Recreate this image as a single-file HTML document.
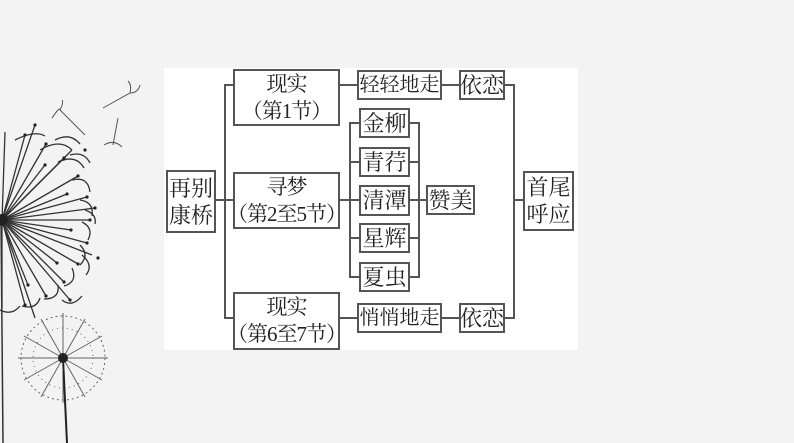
<!DOCTYPE html>
<html><head><meta charset="utf-8"><style>
html,body{margin:0;padding:0;}
body{width:794px;height:443px;background:#f3f3f3;position:relative;overflow:hidden;font-family:"Liberation Serif","Noto Serif CJK SC","Noto Sans CJK SC",serif;}
.panel{position:absolute;left:164px;top:68px;width:414px;height:282px;background:#fff;}
.b{position:absolute;border:2px solid #555;box-sizing:border-box;background:#fff;display:flex;align-items:center;justify-content:center;text-align:center;font-size:22px;line-height:27px;color:#222;white-space:nowrap;}
.s{font-size:21px;letter-spacing:-1px;}
.w{font-size:20px;}
.h{position:absolute;height:2px;background:#555;}
.v{position:absolute;width:2px;background:#555;}
svg{position:absolute;left:0;top:0;}
</style></head><body>
<svg width="794" height="443">
<g stroke="#333" stroke-width="1.3" fill="none">
<line x1="2" y1="220" x2="25" y2="135"/><line x1="2" y1="220" x2="46" y2="144"/><line x1="2" y1="220" x2="64" y2="158"/><line x1="2" y1="220" x2="78" y2="176"/><line x1="2" y1="220" x2="87" y2="197"/><line x1="2" y1="220" x2="90" y2="220"/><line x1="2" y1="220" x2="87" y2="243"/><line x1="2" y1="220" x2="78" y2="264"/><line x1="2" y1="220" x2="64" y2="282"/><line x1="2" y1="220" x2="46" y2="296"/><line x1="2" y1="220" x2="25" y2="305"/><line x1="2" y1="220" x2="5" y2="132"/><line x1="2" y1="220" x2="2" y2="308"/><line x1="2" y1="220" x2="45" y2="165"/><line x1="2" y1="220" x2="67" y2="194"/><line x1="2" y1="220" x2="71" y2="230"/><line x1="2" y1="220" x2="57" y2="263"/><line x1="2" y1="220" x2="28" y2="285"/>
<line x1="2" y1="220" x2="35" y2="125"/><line x1="2" y1="220" x2="72" y2="150"/><line x1="2" y1="220" x2="95" y2="208"/><line x1="2" y1="220" x2="92" y2="255"/><line x1="2" y1="220" x2="70" y2="300"/><line x1="2" y1="220" x2="35" y2="318"/>
<path d="M15 140 q20 -10 30 -4 M40 150 q20 -12 32 0 M58 162 q18 -8 26 6 M72 180 q16 -4 18 12 M80 200 q14 2 12 16 M82 222 q12 6 6 18 M80 245 q10 10 0 20 M72 268 q6 14 -8 18 M58 285 q2 14 -14 14 M40 298 q-4 12 -18 8 M20 306 q-8 10 -20 4 M55 140 q15 -8 25 4 M70 155 q14 -4 20 8 M85 210 q12 4 10 14 M82 255 q12 10 4 20 M62 300 q10 8 20 -4"/>
<line x1="1" y1="220" x2="3" y2="443" stroke-width="1.5"/>
</g>
<g fill="#222">
<circle cx="25" cy="135" r="1.6"/><circle cx="46" cy="144" r="1.6"/><circle cx="64" cy="158" r="1.6"/><circle cx="78" cy="176" r="1.6"/><circle cx="87" cy="197" r="1.6"/><circle cx="90" cy="220" r="1.6"/><circle cx="87" cy="243" r="1.6"/><circle cx="78" cy="264" r="1.6"/><circle cx="64" cy="282" r="1.6"/><circle cx="46" cy="296" r="1.6"/><circle cx="25" cy="305" r="1.6"/><circle cx="45" cy="165" r="1.6"/><circle cx="67" cy="194" r="1.6"/><circle cx="71" cy="230" r="1.6"/><circle cx="57" cy="263" r="1.6"/><circle cx="28" cy="285" r="1.6"/><circle cx="98" cy="258" r="1.6"/><circle cx="85" cy="150" r="1.6"/><circle cx="95" cy="208" r="1.6"/><circle cx="70" cy="300" r="1.6"/><circle cx="35" cy="125" r="1.6"/>
<circle cx="2" cy="220" r="6"/>
</g>
<g stroke="#666" stroke-width="1" fill="none">
<line x1="63" y1="358" x2="108" y2="358"/><line x1="63" y1="358" x2="102" y2="380"/><line x1="63" y1="358" x2="85" y2="397"/><line x1="63" y1="358" x2="63" y2="403"/><line x1="63" y1="358" x2="41" y2="397"/><line x1="63" y1="358" x2="24" y2="380"/><line x1="63" y1="358" x2="18" y2="358"/><line x1="63" y1="358" x2="24" y2="336"/><line x1="63" y1="358" x2="41" y2="319"/><line x1="63" y1="358" x2="63" y2="313"/><line x1="63" y1="358" x2="85" y2="319"/><line x1="63" y1="358" x2="102" y2="336"/>
<circle cx="63" cy="358" r="42" stroke-dasharray="2 3"/>
<circle cx="63" cy="358" r="30" stroke-dasharray="1 4"/>
</g>
<line x1="63" y1="358" x2="67" y2="443" stroke="#222" stroke-width="2"/>
<circle cx="63" cy="358" r="5" fill="#222"/>
<g stroke="#555" stroke-width="1" fill="none">
<line x1="60" y1="110" x2="85" y2="135"/><path d="M52 118 q8 -12 8 -8 M60 110 q4 -8 2 -10"/>
<line x1="103" y1="108" x2="130" y2="93"/><path d="M130 93 q8 0 10 -8 M130 93 q2 -8 -2 -12"/>
<line x1="118" y1="118" x2="113" y2="145"/><path d="M104 145 q10 -6 18 2"/>
</g>
</svg>
<div class="panel"></div>
<div class="h" style="left:216px;top:199px;width:10px"></div>
<div class="v" style="left:224px;top:84px;height:235px"></div>
<div class="h" style="left:224px;top:84px;width:10px"></div>
<div class="h" style="left:224px;top:199px;width:10px"></div>
<div class="h" style="left:224px;top:317px;width:10px"></div>
<div class="h" style="left:340px;top:84px;width:18px"></div>
<div class="h" style="left:442px;top:84px;width:18px"></div>
<div class="h" style="left:505px;top:84px;width:10px"></div>
<div class="h" style="left:340px;top:317px;width:18px"></div>
<div class="h" style="left:442px;top:317px;width:18px"></div>
<div class="h" style="left:505px;top:317px;width:10px"></div>
<div class="v" style="left:513px;top:84px;height:235px"></div>
<div class="h" style="left:513px;top:199px;width:10px"></div>
<div class="h" style="left:340px;top:199px;width:20px"></div>
<div class="v" style="left:349px;top:122px;height:156px"></div>
<div class="h" style="left:349px;top:122px;width:10px"></div>
<div class="h" style="left:349px;top:161px;width:10px"></div>
<div class="h" style="left:349px;top:276px;width:10px"></div>
<div class="h" style="left:349px;top:237px;width:10px"></div>
<div class="v" style="left:418px;top:122px;height:156px"></div>
<div class="h" style="left:410px;top:122px;width:10px"></div>
<div class="h" style="left:410px;top:161px;width:10px"></div>
<div class="h" style="left:410px;top:199px;width:17px"></div>
<div class="h" style="left:410px;top:237px;width:10px"></div>
<div class="h" style="left:410px;top:276px;width:10px"></div>
<div class="b" style="left:166px;top:170px;width:50px;height:63px">再别<br>康桥</div>
<div class="b s" style="left:233px;top:69px;width:107px;height:57px">现实<br>（第1节）</div>
<div class="b s" style="left:233px;top:172px;width:107px;height:57px">寻梦<br>（第2至5节）</div>
<div class="b s" style="left:233px;top:292px;width:107px;height:58px">现实<br>（第6至7节）</div>
<div class="b w" style="left:357px;top:70px;width:85px;height:30px">轻轻地走</div>
<div class="b" style="left:459px;top:70px;width:46px;height:30px">依恋</div>
<div class="b w" style="left:357px;top:303px;width:85px;height:30px">悄悄地走</div>
<div class="b" style="left:459px;top:303px;width:46px;height:30px">依恋</div>
<div class="b" style="left:359px;top:108px;width:51px;height:30px">金柳</div>
<div class="b" style="left:359px;top:147px;width:51px;height:30px">青荇</div>
<div class="b" style="left:359px;top:185px;width:51px;height:31px">清潭</div>
<div class="b" style="left:359px;top:223px;width:51px;height:30px">星辉</div>
<div class="b" style="left:359px;top:262px;width:51px;height:30px">夏虫</div>
<div class="b" style="left:426px;top:185px;width:49px;height:30px">赞美</div>
<div class="b" style="left:523px;top:171px;width:51px;height:60px">首尾<br>呼应</div>
</body></html>
